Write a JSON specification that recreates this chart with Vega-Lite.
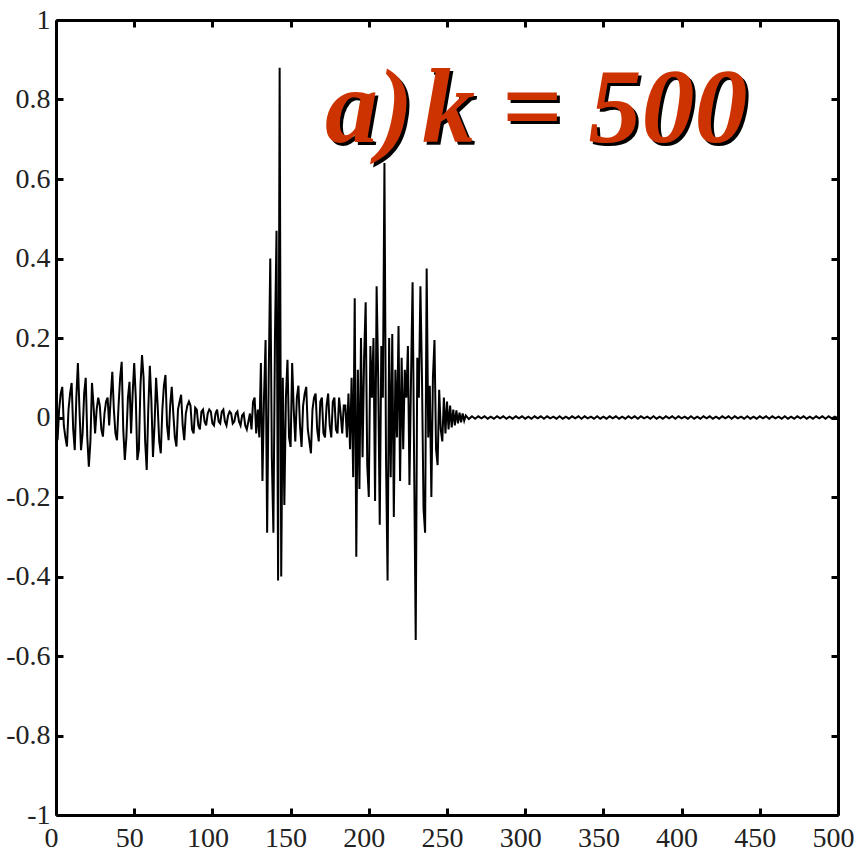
{
  "$schema": "https://vega.github.io/schema/vega-lite/v6.json",
  "autosize": {"type": "none"},
  "padding": {"left": 56, "top": 20, "right": 16, "bottom": 40},
  "width": 782,
  "height": 795,
  "background": "white",
  "config": {
    "view": {"stroke": null},
    "axis": {
      "grid": false,
      "title": null,
      "domainColor": "black",
      "domainWidth": 3,
      "tickColor": "black",
      "tickWidth": 3,
      "tickSize": -7,
      "labelFont": "Liberation Serif",
      "labelFontSize": 28,
      "labelColor": "#222",
      "labelFlush": false,
      "labelOverlap": false,
      "labelExpr": "(datum.value < 0 ? '-' : '') + format(abs(datum.value), '.1~f')"
    }
  },
  "datasets": {
    "signal": [
      {"t":0,"v":0},{"t":1,"v":-0.057},{"t":2,"v":0.02},{"t":3,"v":0.06},{"t":4,"v":0.077},{"t":5,"v":-0.02},{"t":6,"v":-0.05},{"t":7,"v":-0.073},{"t":8,"v":0.02},{"t":9,"v":0.06},
      {"t":10,"v":0.087},{"t":11,"v":-0.03},{"t":12,"v":-0.082},{"t":13,"v":0.05},{"t":14,"v":0.137},{"t":15,"v":0.02},{"t":16,"v":-0.082},{"t":17,"v":-0.04},{"t":18,"v":0.06},{"t":19,"v":0.1},
      {"t":20,"v":-0.05},{"t":21,"v":-0.124},{"t":22,"v":-0.06},{"t":23,"v":0.087},{"t":24,"v":0.03},{"t":25,"v":-0.04},{"t":26,"v":0.02},{"t":27,"v":0.05},{"t":28,"v":0.03},{"t":29,"v":-0.03},
      {"t":30,"v":-0.048},{"t":31,"v":0.01},{"t":32,"v":0.04},{"t":33,"v":0.05},{"t":34,"v":-0.02},{"t":35,"v":0.05},{"t":36,"v":0.115},{"t":37,"v":0.02},{"t":38,"v":-0.04},{"t":39,"v":-0.057},
      {"t":40,"v":0.03},{"t":41,"v":0.1},{"t":42,"v":0.14},{"t":43,"v":-0.03},{"t":44,"v":-0.107},{"t":45,"v":-0.05},{"t":46,"v":0.05},{"t":47,"v":0.09},{"t":48,"v":-0.04},{"t":49,"v":0.06},
      {"t":50,"v":0.137},{"t":51,"v":0.05},{"t":52,"v":-0.107},{"t":53,"v":-0.08},{"t":54,"v":0.08},{"t":55,"v":0.157},{"t":56,"v":0.1},{"t":57,"v":-0.06},{"t":58,"v":-0.132},{"t":59,"v":0.02},
      {"t":60,"v":0.13},{"t":61,"v":0.04},{"t":62,"v":-0.099},{"t":63,"v":-0.02},{"t":64,"v":0.1},{"t":65,"v":0.03},{"t":66,"v":-0.06},{"t":67,"v":-0.09},{"t":68,"v":0.02},{"t":69,"v":0.08},
      {"t":70,"v":0.107},{"t":71,"v":-0.02},{"t":72,"v":-0.057},{"t":73,"v":0.03},{"t":74,"v":0.077},{"t":75,"v":0.01},{"t":76,"v":-0.05},{"t":77,"v":-0.073},{"t":78,"v":0.02},{"t":79,"v":0.04},
      {"t":80,"v":0.057},{"t":81,"v":-0.02},{"t":82,"v":-0.057},{"t":83,"v":0.01},{"t":84,"v":0.03},{"t":85,"v":0.04},{"t":86,"v":0.03},{"t":87,"v":-0.03},{"t":88,"v":-0.04},{"t":89,"v":0.025},
      {"t":90,"v":0.02},{"t":91,"v":-0.02},{"t":92,"v":-0.03},{"t":93,"v":0.015},{"t":94,"v":0.02},{"t":95,"v":-0.01},{"t":96,"v":-0.02},{"t":97,"v":0.01},{"t":98,"v":0.02},{"t":99,"v":0.015},
      {"t":100,"v":-0.015},{"t":101,"v":-0.02},{"t":102,"v":0.01},{"t":103,"v":0.02},{"t":104,"v":-0.01},{"t":105,"v":-0.015},{"t":106,"v":0.015},{"t":107,"v":0.02},{"t":108,"v":-0.01},{"t":109,"v":-0.02},
      {"t":110,"v":0.005},{"t":111,"v":0.015},{"t":112,"v":0.01},{"t":113,"v":-0.015},{"t":114,"v":-0.01},{"t":115,"v":0.01},{"t":116,"v":0.015},{"t":117,"v":-0.01},{"t":118,"v":-0.02},{"t":119,"v":0.005},
      {"t":120,"v":0.01},{"t":121,"v":-0.02},{"t":122,"v":-0.03},{"t":123,"v":-0.01},{"t":124,"v":0.01},{"t":125,"v":-0.03},{"t":126,"v":0.04},{"t":127,"v":0.05},{"t":128,"v":-0.04},{"t":129,"v":0.02},
      {"t":130,"v":-0.05},{"t":131,"v":0.137},{"t":132,"v":-0.16},{"t":133,"v":0.05},{"t":134,"v":0.195},{"t":135,"v":-0.29},{"t":136,"v":0.1},{"t":137,"v":0.4},{"t":138,"v":-0.1},{"t":139,"v":-0.29},
      {"t":140,"v":0.2},{"t":141,"v":0.47},{"t":142,"v":-0.41},{"t":143,"v":0.88},{"t":144,"v":-0.4},{"t":145,"v":0.1},{"t":146,"v":-0.22},{"t":147,"v":0.05},{"t":148,"v":0.145},{"t":149,"v":-0.05},
      {"t":150,"v":-0.074},{"t":151,"v":0.137},{"t":152,"v":0.02},{"t":153,"v":-0.06},{"t":154,"v":0.05},{"t":155,"v":0.08},{"t":156,"v":-0.02},{"t":157,"v":-0.074},{"t":158,"v":0.03},{"t":159,"v":0.06},
      {"t":160,"v":0.077},{"t":161,"v":-0.03},{"t":162,"v":-0.06},{"t":163,"v":-0.09},{"t":164,"v":0.02},{"t":165,"v":0.05},{"t":166,"v":0.06},{"t":167,"v":-0.03},{"t":168,"v":-0.06},{"t":169,"v":0.04},
      {"t":170,"v":0.05},{"t":171,"v":-0.04},{"t":172,"v":-0.05},{"t":173,"v":0.03},{"t":174,"v":0.06},{"t":175,"v":-0.02},{"t":176,"v":-0.05},{"t":177,"v":0.04},{"t":178,"v":0.05},{"t":179,"v":-0.03},
      {"t":180,"v":-0.04},{"t":181,"v":0.05},{"t":182,"v":0.01},{"t":183,"v":-0.04},{"t":184,"v":0.03},{"t":185,"v":0.03},{"t":186,"v":-0.05},{"t":187,"v":0.06},{"t":188,"v":-0.08},{"t":189,"v":0.1},
      {"t":190,"v":-0.15},{"t":191,"v":0.3},{"t":192,"v":-0.35},{"t":193,"v":0.12},{"t":194,"v":-0.18},{"t":195,"v":0.2},{"t":196,"v":-0.1},{"t":197,"v":0.15},{"t":198,"v":0.29},{"t":199,"v":-0.12},
      {"t":200,"v":-0.2},{"t":201,"v":0.18},{"t":202,"v":0.05},{"t":203,"v":0.2},{"t":204,"v":-0.21},{"t":205,"v":0.33},{"t":206,"v":0.1},{"t":207,"v":-0.27},{"t":208,"v":0.18},{"t":209,"v":0.05},
      {"t":210,"v":0.64},{"t":211,"v":-0.1},{"t":212,"v":-0.41},{"t":213,"v":0.2},{"t":214,"v":-0.15},{"t":215,"v":0.21},{"t":216,"v":-0.25},{"t":217,"v":0.12},{"t":218,"v":-0.05},{"t":219,"v":0.23},
      {"t":220,"v":-0.16},{"t":221,"v":0.15},{"t":222,"v":-0.08},{"t":223,"v":0.12},{"t":224,"v":0.05},{"t":225,"v":0.18},{"t":226,"v":-0.17},{"t":227,"v":0.1},{"t":228,"v":0.34},{"t":229,"v":-0.12},
      {"t":230,"v":-0.56},{"t":231,"v":0.15},{"t":232,"v":0.05},{"t":233,"v":0.33},{"t":234,"v":0.1},{"t":235,"v":-0.23},{"t":236,"v":-0.29},{"t":237,"v":0.375},{"t":238,"v":-0.05},{"t":239,"v":0.08},
      {"t":240,"v":-0.2},{"t":241,"v":0.1},{"t":242,"v":0.195},{"t":243,"v":-0.08},{"t":244,"v":-0.12},{"t":245,"v":0.07},{"t":246,"v":-0.03},{"t":247,"v":-0.06},{"t":248,"v":0.05},{"t":249,"v":-0.04},
      {"t":250,"v":0.04},{"t":251,"v":-0.03},{"t":252,"v":0.03},{"t":253,"v":-0.025},{"t":254,"v":0.02},{"t":255,"v":-0.02},{"t":256,"v":0.018},{"t":257,"v":-0.015},{"t":258,"v":0.012},{"t":259,"v":-0.012},
      {"t":260,"v":0.01},{"t":261,"v":-0.008},{"t":262,"v":0.005},{"t":264,"v":-0.004},{"t":266,"v":0.003},{"t":268,"v":-0.003},{"t":270,"v":0.003},{"t":272,"v":-0.002},{"t":274,"v":0.003},{"t":276,"v":-0.003},
      {"t":278,"v":0.002},{"t":280,"v":-0.003},{"t":282,"v":0.003},{"t":284,"v":-0.002},{"t":286,"v":0.003},{"t":288,"v":-0.003},{"t":290,"v":0.002},{"t":292,"v":-0.003},{"t":294,"v":0.003},{"t":296,"v":-0.002},
      {"t":298,"v":0.003},{"t":300,"v":-0.003},{"t":302,"v":0.002},{"t":304,"v":-0.003},{"t":306,"v":0.003},{"t":308,"v":-0.002},{"t":310,"v":0.003},{"t":312,"v":-0.003},{"t":314,"v":0.003},{"t":316,"v":-0.002},
      {"t":318,"v":0.002},{"t":320,"v":-0.003},{"t":322,"v":0.003},{"t":324,"v":-0.003},{"t":326,"v":0.002},{"t":328,"v":-0.003},{"t":330,"v":0.003},{"t":332,"v":-0.002},{"t":334,"v":0.003},{"t":336,"v":-0.003},
      {"t":338,"v":0.003},{"t":340,"v":-0.002},{"t":342,"v":0.002},{"t":344,"v":-0.003},{"t":346,"v":0.003},{"t":348,"v":-0.003},{"t":350,"v":0.002},{"t":352,"v":-0.003},{"t":354,"v":0.003},{"t":356,"v":-0.002},
      {"t":358,"v":0.003},{"t":360,"v":-0.003},{"t":362,"v":0.002},{"t":364,"v":-0.003},{"t":366,"v":0.003},{"t":368,"v":-0.002},{"t":370,"v":0.003},{"t":372,"v":-0.003},{"t":374,"v":0.003},{"t":376,"v":-0.002},
      {"t":378,"v":0.002},{"t":380,"v":-0.003},{"t":382,"v":0.003},{"t":384,"v":-0.003},{"t":386,"v":0.002},{"t":388,"v":-0.003},{"t":390,"v":0.003},{"t":392,"v":-0.002},{"t":394,"v":0.003},{"t":396,"v":-0.003},
      {"t":398,"v":0.003},{"t":400,"v":-0.002},{"t":402,"v":0.002},{"t":404,"v":-0.003},{"t":406,"v":0.003},{"t":408,"v":-0.003},{"t":410,"v":0.002},{"t":412,"v":-0.003},{"t":414,"v":0.003},{"t":416,"v":-0.002},
      {"t":418,"v":0.003},{"t":420,"v":-0.003},{"t":422,"v":0.002},{"t":424,"v":-0.003},{"t":426,"v":0.003},{"t":428,"v":-0.002},{"t":430,"v":0.003},{"t":432,"v":-0.003},{"t":434,"v":0.003},{"t":436,"v":-0.002},
      {"t":438,"v":0.002},{"t":440,"v":-0.003},{"t":442,"v":0.003},{"t":444,"v":-0.003},{"t":446,"v":0.002},{"t":448,"v":-0.003},{"t":450,"v":0.003},{"t":452,"v":-0.002},{"t":454,"v":0.003},{"t":456,"v":-0.003},
      {"t":458,"v":0.003},{"t":460,"v":-0.002},{"t":462,"v":0.002},{"t":464,"v":-0.003},{"t":466,"v":0.003},{"t":468,"v":-0.003},{"t":470,"v":0.002},{"t":472,"v":-0.003},{"t":474,"v":0.003},{"t":476,"v":-0.002},
      {"t":478,"v":0.003},{"t":480,"v":-0.003},{"t":482,"v":0.002},{"t":484,"v":-0.003},{"t":486,"v":0.003},{"t":488,"v":-0.002},{"t":490,"v":0.003},{"t":492,"v":-0.003},{"t":494,"v":0.003},{"t":496,"v":-0.002},
      {"t":498,"v":0.002},{"t":500,"v":-0.002}
    ],
    "caption": [
      {"t": 172, "v": 0.693, "label": "a)"},
      {"t": 234, "v": 0.693, "label": "k = 500"}
    ]
  },
  "layer": [
    {
      "data": {"name": "signal"},
      "mark": {"type": "line", "color": "black", "strokeWidth": 2},
      "encoding": {
        "x": {
          "field": "t", "type": "quantitative",
          "scale": {"domain": [0, 500], "nice": false, "zero": false},
          "axis": {"orient": "bottom", "values": [0, 50, 100, 150, 200, 250, 300, 350, 400, 450, 500], "labelPadding": 16, "labelOffset": -5}
        },
        "y": {
          "field": "v", "type": "quantitative",
          "scale": {"domain": [-1, 1], "nice": false, "zero": false},
          "axis": {"orient": "left", "values": [-1, -0.8, -0.6, -0.4, -0.2, 0, 0.2, 0.4, 0.6, 0.8, 1], "labelPadding": 13}
        }
      }
    },
    {
      "data": {"name": "caption"},
      "mark": {"type": "text", "color": "black", "font": "Liberation Serif", "fontWeight": "bold", "fontStyle": "italic", "fontSize": 106, "align": "left", "baseline": "alphabetic", "dx": 3, "dy": 3},
      "encoding": {
        "x": {"field": "t", "type": "quantitative", "axis": {"orient": "top", "labels": false, "values": [0, 50, 100, 150, 200, 250, 300, 350, 400, 450, 500]}},
        "y": {"field": "v", "type": "quantitative", "axis": {"orient": "right", "labels": false, "values": [-1, -0.8, -0.6, -0.4, -0.2, 0, 0.2, 0.4, 0.6, 0.8, 1]}},
        "text": {"field": "label"}
      }
    },
    {
      "data": {"name": "caption"},
      "mark": {"type": "text", "color": "#cc3300", "font": "Liberation Serif", "fontWeight": "bold", "fontStyle": "italic", "fontSize": 106, "align": "left", "baseline": "alphabetic"},
      "encoding": {
        "x": {"field": "t", "type": "quantitative", "axis": null},
        "y": {"field": "v", "type": "quantitative", "axis": null},
        "text": {"field": "label"}
      }
    }
  ],
  "resolve": {"axis": {"x": "independent", "y": "independent"}}
}
